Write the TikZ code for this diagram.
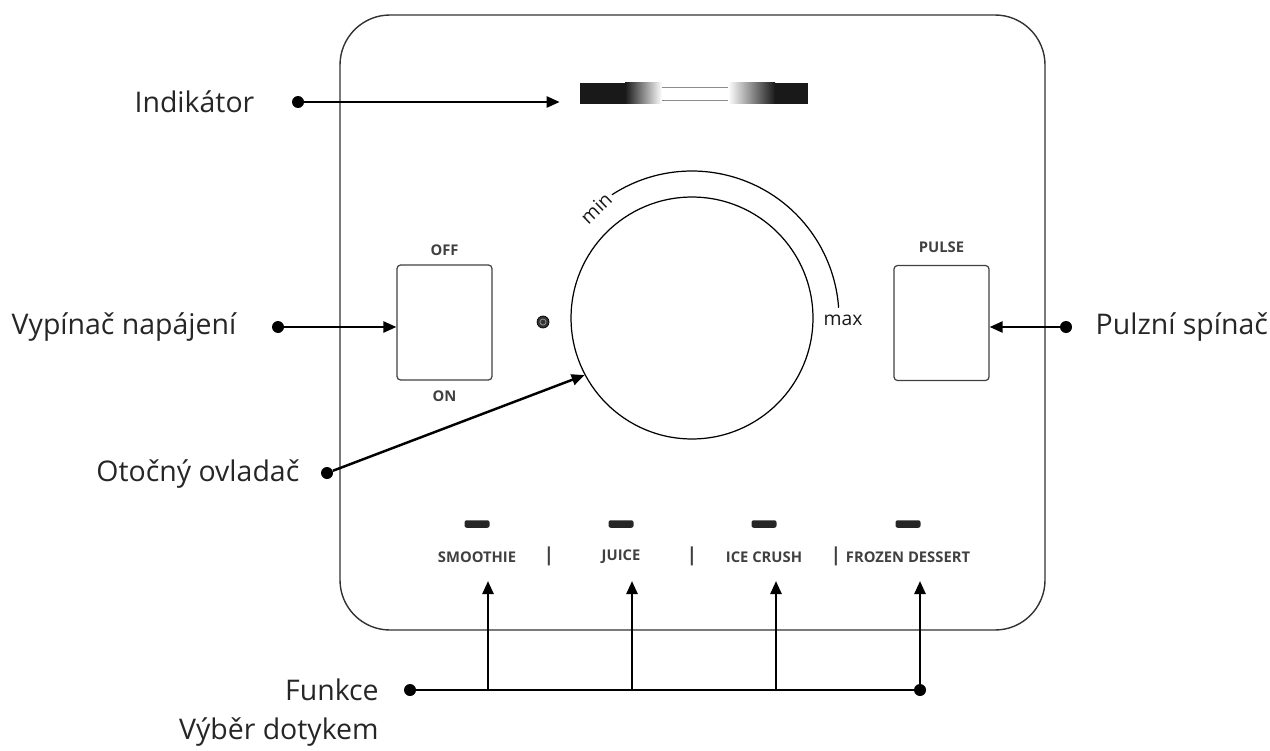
\documentclass[tikz,border=0pt]{standalone}
\usepackage{fontspec}
\setmainfont{Open Sans}
\usetikzlibrary{arrows.meta,positioning,calc}
\tikzset{
  lbl/.style={font=\fontsize{16.2}{22}\selectfont, text=black!85, inner sep=0pt},
  key/.style={font=\bfseries\fontsize{8.4}{10}\selectfont, text=black!75, inner sep=0pt},
  scl/.style={font=\fontsize{11}{13}\selectfont, text=black!90, inner sep=0pt},
  dot/.style={circle, fill=black, minimum size=2.4mm, inner sep=0pt},
  arr/.style={-{Triangle[length=2.6mm,width=2.2mm]}, line width=1.4pt},
  bus/.style={line width=1.4pt},
  sw/.style={draw=black!75, rounded corners=2pt, line width=0.7pt, minimum width=1.9cm, minimum height=2.3cm, inner sep=0pt},
  led/.style={fill=black!85, rounded corners=1.2pt, minimum width=0.5cm, minimum height=0.15cm, inner sep=0pt},
}

\begin{document}
\begin{tikzpicture}[x=0.02cm,y=-0.02cm]
\useasboundingbox (0,0) rectangle (1270,750);
% panel
\draw[black!80, line width=0.8pt, rounded corners=1cm] (340,15) rectangle (1045,630);
% indicator
\node[minimum width=4.56cm, minimum height=0.42cm, inner sep=0pt] (ind) at (694,93.5) {};
\fill[black!90] (580,83) rectangle (625,104);
\shade[left color=black!90, right color=white] (625,83) rectangle (662,104);
\draw[black!45, line width=0.5pt] (662,87) -- (728,87) (662,100) -- (728,100);
\shade[left color=white, right color=black!90] (728,83) rectangle (775,104);
\fill[black!90] (775,83) rectangle (808,104);
% knob
\node[draw, circle, minimum size=4.84cm, line width=0.7pt, inner sep=0pt] (knob) at (692,318) {};
\draw[line width=0.7pt] (knob.center) ++(123:2.94cm) arc[start angle=123, end angle=4, radius=2.94cm];
\node[scl, rotate=44] (tmin) at (596,208) {min};
\node[scl] (tmax) at (843,320) {max};
\node[circle, fill=black!80, draw=black, minimum size=0.24cm, inner sep=0pt] (lamp) at (543,322) {};
\draw[black!40, line width=0.4pt] (lamp.center) circle[radius=0.06cm];
% switches
\node[sw] (pwr) at (444.5,322.5) {};
\node[key, above=0.16cm of pwr] (toff) {OFF};
\node[key, below=0.2cm of pwr] (ton) {ON};
\node[sw] (pulse) at (941.5,323) {};
\node[key, above=0.24cm of pulse] (tpulse) {PULSE};
% touch keys
\foreach \x/\n/\t in {477/1/SMOOTHIE, 621/2/JUICE, 764/3/ICE CRUSH, 908/4/FROZEN DESSERT}{
  \node[led] (led\n) at (\x,524) {};
  \node[key] (fn\n) at (\x,557) {\t};
}
\foreach \x/\n in {549/1, 692/2, 836/3}
  \node[key, font=\bfseries\fontsize{11}{12}\selectfont] (sep\n) at (\x,556) {|};
% callouts
\node[dot] (dInd) at (298,102) {};
\node[lbl, left=0.74cm of dInd] (tInd) {Indikátor};
\draw[arr, shorten >=0.4cm] (dInd) -- (ind.west |- dInd);

\node[dot] (dPwr) at (278,327) {};
\node[lbl, left=0.7cm of dPwr] (tPwr) {Vypínač napájení};
\draw[arr] (dPwr) -- (pwr.west |- dPwr);

\node[dot] (dPulse) at (1066,327) {};
\node[lbl, right=0.46cm of dPulse] (tPulse) {Pulzní spínač};
\draw[arr] (dPulse) -- (pulse.east |- dPulse);

\node[dot] (dKnob) at (327,473) {};
\node[lbl, left=0.42cm of dKnob, yshift=-0.02cm] (tKnob) {Otočný ovladač};
\draw[arr] (dKnob) -- (knob.208);

\node[dot] (dFun) at (410,690) {};
\node[dot] (dEnd) at (920,690) {};
\node[lbl, align=right, anchor=north east] (tFun) at (379,679) {Funkce\\Výběr dotykem};
\draw[bus] (dFun) -- (dEnd);
\foreach \x/\n in {488/1, 632/2, 776/3, 920/4}{
  \coordinate (b\n) at (\x,690);
  \coordinate (t\n) at (\x,581);
  \draw[arr] (b\n) -- (t\n);
}
\end{tikzpicture}
\end{document}
